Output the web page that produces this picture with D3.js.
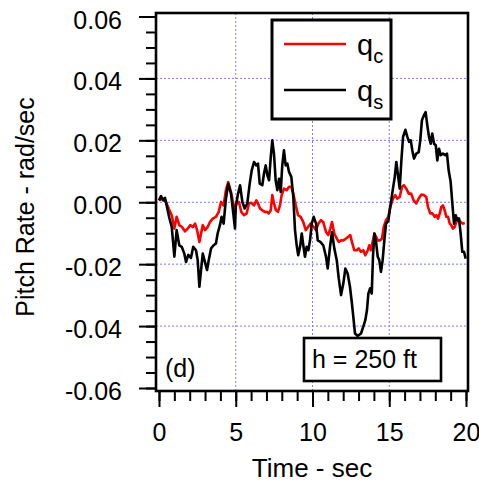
<!DOCTYPE html>
<meta charset="utf-8">
<style>
body { margin: 0; background: #fff; }
text { font-family: "Liberation Sans", Arial, sans-serif; fill: #000; }
</style>
<svg width="479" height="487"></svg>
<script src="https://d3js.org/d3.v7.min.js"></script>
<script>

// commanded pitch rate q_c (red)
var timeC = [0.00,0.24,0.46,0.63,0.83,1.00,1.15,1.32,1.50,1.69,
  1.87,2.04,2.20,2.35,2.48,2.63,2.74,2.85,3.00,3.17,
  3.32,3.50,3.71,3.89,4.04,4.21,4.36,4.51,4.69,4.84,
  4.97,5.06,5.21,5.36,5.54,5.71,5.86,6.01,6.19,6.34,
  6.45,6.58,6.73,6.89,7.02,7.15,7.28,7.38,7.49,7.62,
  7.75,7.88,7.99,8.14,8.32,8.47,8.62,8.75,8.91,9.06,
  9.23,9.40,9.56,9.71,9.88,10.08,10.23,10.38,10.55,10.70,
  10.88,11.03,11.16,11.27,11.42,11.58,11.71,11.86,12.01,12.18,
  12.33,12.46,12.57,12.72,12.88,13.01,13.16,13.31,13.44,13.60,
  13.70,13.81,13.92,14.03,14.14,14.25,14.40,14.53,14.64,14.79,
  14.94,15.07,15.24,15.39,15.52,15.68,15.83,15.96,16.11,16.27,
  16.42,16.59,16.76,16.92,17.09,17.26,17.41,17.52,17.67,17.81,
  17.96,18.07,18.18,18.29,18.39,18.50,18.61,18.72,18.83,18.94,
  19.04,19.15,19.26,19.37,19.48,19.65,19.80,19.92];
var qc = [0.0006,0.0012,0.0001,-0.002,-0.0042,-0.0085,-0.0047,-0.0074,-0.008,-0.0094,
  -0.0085,-0.0074,-0.008,-0.0069,-0.009,-0.0128,-0.0101,-0.0074,-0.009,-0.008,
  -0.0064,-0.0053,-0.0047,-0.0031,0.0001,-0.001,0.0039,0.0065,0.0033,-0.0004,
  -0.002,0.0001,0.0001,-0.0031,-0.0042,-0.0036,-0.0004,-0.0002,-0.001,0.0006,
  -0.0004,-0.002,-0.0026,-0.0031,-0.0031,-0.0036,-0.0026,0.0023,-0.0004,-0.0026,
  -0.0031,-0.001,0.0023,0.0044,0.0039,0.005,0.005,0.0028,-0.001,-0.0042,
  -0.0047,-0.0064,-0.009,-0.008,-0.0069,-0.008,-0.009,-0.0069,-0.0058,-0.0064,
  -0.0096,-0.0106,-0.0085,-0.0064,-0.0101,-0.0117,-0.0128,-0.0123,-0.0123,-0.0117,
  -0.0112,-0.0106,-0.0128,-0.0155,-0.0155,-0.0149,-0.016,-0.0155,-0.0171,-0.0155,
  -0.0139,-0.0155,-0.0128,-0.0101,-0.0112,-0.0123,-0.0123,-0.0117,-0.008,-0.0058,
  -0.0047,-0.0015,0.0012,0.0023,0.0012,0.0017,0.005,0.0055,0.0044,0.0028,
  0.0028,0.0006,-0.0004,0.0012,0.0025,0.0023,0.0017,-0.0015,-0.0036,-0.0036,
  -0.0047,-0.0042,-0.0053,-0.0036,-0.0015,-0.001,-0.0026,-0.0047,-0.0047,-0.0069,
  -0.0074,-0.0085,-0.008,-0.0064,-0.0053,-0.0064,-0.0069,-0.0067];

// sensed pitch rate q_s (black)
var timeS = [0.00,0.13,0.28,0.39,0.52,0.67,0.83,1.00,1.15,1.32,
  1.48,1.65,1.76,1.91,2.08,2.23,2.41,2.52,2.63,2.74,
  2.85,3.02,3.13,3.24,3.39,3.56,3.71,3.82,3.97,4.08,
  4.21,4.36,4.51,4.69,4.84,4.95,5.00,5.15,5.28,5.43,
  5.58,5.75,5.91,6.04,6.19,6.34,6.45,6.56,6.73,6.84,
  6.95,7.06,7.17,7.28,7.38,7.49,7.60,7.71,7.82,7.93,
  8.03,8.14,8.25,8.36,8.47,8.62,8.75,8.86,8.97,9.07,
  9.19,9.30,9.40,9.51,9.62,9.73,9.84,9.95,10.08,10.23,
  10.34,10.51,10.70,10.88,10.99,11.14,11.27,11.42,11.58,11.71,
  11.86,12.01,12.14,12.29,12.44,12.57,12.68,12.77,12.94,13.16,
  13.31,13.44,13.55,13.64,13.75,13.86,13.94,14.03,14.14,14.25,
  14.35,14.46,14.57,14.68,14.79,14.94,15.03,15.13,15.24,15.36,
  15.46,15.57,15.68,15.79,15.90,16.05,16.18,16.29,16.40,16.50,
  16.61,16.76,16.92,17.02,17.13,17.26,17.37,17.48,17.59,17.70,
  17.80,17.92,18.03,18.13,18.24,18.35,18.50,18.65,18.76,18.87,
  19.00,19.11,19.22,19.33,19.43,19.54,19.65,19.76,19.87,19.98];
var qs = [0.0006,0.002,0.0006,0.0014,-0.0015,-0.005,-0.008,-0.0176,-0.009,-0.0139,
  -0.0144,-0.0166,-0.0193,-0.017,-0.018,-0.0144,-0.0155,-0.0187,-0.0273,-0.0219,
  -0.0166,-0.0198,-0.0219,-0.0187,-0.0149,-0.0139,-0.0133,-0.0101,-0.0074,-0.0047,
  -0.0069,0.0012,0.006,0.0028,-0.0036,-0.0085,-0.0015,0.0028,0.0055,0.0001,
  -0.002,-0.0004,0.006,0.0103,0.013,0.0119,0.0125,0.006,0.0055,0.0093,
  0.0119,0.0087,0.0071,0.0146,0.02,0.0157,0.0071,0.0039,0.0076,0.0033,
  0.0119,0.0168,0.0119,0.0125,0.0098,0.0082,0.0017,-0.009,-0.0139,-0.0171,
  -0.0144,-0.0101,-0.0139,-0.0176,-0.0144,-0.0155,-0.0123,-0.0069,-0.0047,-0.0069,
  -0.0123,-0.0128,-0.0139,-0.0176,-0.0214,-0.0144,-0.0096,-0.0149,-0.0187,-0.0246,
  -0.03,-0.0262,-0.0214,-0.023,-0.0273,-0.0327,-0.0381,-0.0424,-0.0432,-0.0424,
  -0.0402,-0.0381,-0.0348,-0.0295,-0.0278,-0.0295,-0.0176,-0.0101,-0.0128,-0.0176,
  -0.0187,-0.0225,-0.0187,-0.0123,-0.0069,-0.006,-0.0026,0.0006,0.0044,0.0082,
  0.013,0.0087,0.0044,0.0135,0.0211,0.0234,0.0211,0.0195,0.02,0.0168,
  0.0141,0.0157,0.0162,0.02,0.0265,0.0281,0.0291,0.0248,0.0211,0.0189,
  0.0222,0.0189,0.0184,0.0135,0.0173,0.0152,0.0157,0.0152,0.0157,0.0103,
  0.0066,-0.0004,-0.0069,-0.0042,-0.0058,-0.0052,-0.0101,-0.016,-0.016,-0.0182];

var xMajor = [0, 5, 10, 15, 20],
    xMinor = d3.range(0, 21, 1),
    xGrid = [5, 10, 15],
    yMajor = [-0.06, -0.04, -0.02, 0, 0.02, 0.04, 0.06],
    yMinor = d3.range(-0.06, 0.0601, 0.005),
    yGrid = [-0.04, -0.02, 0, 0.02, 0.04];

var legendItems = [{sub: "c", color: "#ff0000"}, {sub: "s", color: "#000"}];

var svg = d3.select("svg"),
    pLeft = 156, pRight = 468, pTop = 13, pBottom = 391;

var x = d3.scaleLinear().domain([0, 20]).range([159, 466]),
    y = d3.scaleLinear().domain([-0.06, 0.06]).range([388, 16.5]);

svg.append("clipPath").attr("id", "clip")
  .append("rect").attr("x", pLeft).attr("y", pTop)
  .attr("width", pRight - pLeft).attr("height", pBottom - pTop);

// grid
var grid = svg.append("g").attr("stroke", "#7b7bff").attr("stroke-width", 1)
  .attr("stroke-dasharray", "2,2");
grid.selectAll(".gx").data(xGrid).enter().append("line")
  .attr("x1", x).attr("x2", x).attr("y1", pTop).attr("y2", pBottom);
grid.selectAll(".gy").data(yGrid).enter().append("line")
  .attr("y1", y).attr("y2", y).attr("x1", pLeft).attr("x2", pRight);

// series
var lineC = d3.line().x(function(d, i) { return x(timeC[i]); }).y(function(d) { return y(d); }),
    lineS = d3.line().x(function(d, i) { return x(timeS[i]); }).y(function(d) { return y(d); });

var plot = svg.append("g").attr("clip-path", "url(#clip)")
  .attr("fill", "none").attr("stroke-width", 2.6).attr("stroke-linejoin", "round");
plot.append("path").attr("stroke", "#ff0000").attr("d", lineC(qc));
plot.append("path").attr("stroke", "#000").attr("d", lineS(qs));

// axes
svg.append("g").attr("transform", "translate(0," + pBottom + ")")
  .call(d3.axisBottom(x).tickValues(xMajor).tickSize(16).tickPadding(16).tickFormat(d3.format("d")));
svg.append("g").attr("transform", "translate(0," + pBottom + ")")
  .call(d3.axisBottom(x).tickValues(xMinor).tickSize(10).tickFormat(""));
var yAxis = svg.append("g").attr("transform", "translate(" + pLeft + ",0)")
  .call(d3.axisLeft(y).tickValues(yMajor).tickSize(17).tickPadding(17)
    .tickFormat(function(d) { return d.toFixed(2); }));
svg.append("g").attr("transform", "translate(" + pLeft + ",0)")
  .call(d3.axisLeft(y).tickValues(yMinor).tickSize(10).tickFormat(""));

svg.selectAll(".domain").remove();
svg.selectAll(".tick line").attr("stroke", "#000").attr("stroke-width", 2);
svg.selectAll(".tick text").attr("font-size", 25).attr("font-family", null);
yAxis.selectAll(".tick text").attr("dy", "0.46em");

// frame
svg.append("rect").attr("x", pLeft).attr("y", pTop)
  .attr("width", pRight - pLeft).attr("height", pBottom - pTop)
  .attr("fill", "none").attr("stroke", "#000").attr("stroke-width", 2.6);

// axis titles
svg.append("text").attr("x", (pLeft + pRight) / 2).attr("y", 477)
  .attr("text-anchor", "middle").attr("font-size", 26).text("Time - sec");
svg.append("text").attr("transform", "translate(34," + ((pTop + pBottom) / 2 + 5) + ") rotate(-90)")
  .attr("text-anchor", "middle").attr("font-size", 25).text("Pitch Rate - rad/sec");

// legend
var legend = svg.append("g");
legend.append("rect").attr("x", 272).attr("y", 20).attr("width", 119).attr("height", 99)
  .attr("fill", "#fff").attr("stroke", "#000").attr("stroke-width", 3);
var item = legend.selectAll(".item").data(legendItems).enter().append("g")
  .attr("transform", function(d, i) { return "translate(0," + (44 + i * 46) + ")"; });
item.append("line").attr("x1", 284).attr("x2", 346)
  .attr("stroke", function(d) { return d.color; }).attr("stroke-width", 2.6);
var lt = item.append("text").attr("x", 357).attr("y", 11).attr("font-size", 29).text("q");
lt.append("tspan").attr("dy", 8).attr("font-size", 20).text(function(d) { return d.sub; });

// annotations
svg.append("rect").attr("x", 304).attr("y", 338).attr("width", 137).attr("height", 43)
  .attr("fill", "#fff").attr("stroke", "#000").attr("stroke-width", 2.6);
svg.append("text").attr("x", 312).attr("y", 368).attr("font-size", 25).text("h = 250 ft");
svg.append("text").attr("x", 165).attr("y", 377).attr("font-size", 25).text("(d)");

</script>
